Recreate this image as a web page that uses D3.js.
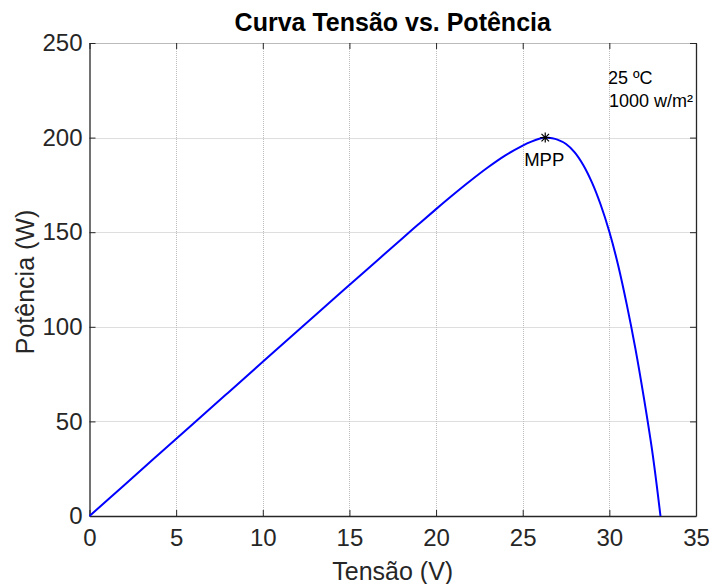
<!DOCTYPE html>
<html><head><meta charset="utf-8">
<script src="https://cdn.jsdelivr.net/npm/d3@7"></script>
<style>body{margin:0;background:#fff}svg{display:block;font-family:"Liberation Sans",Arial,sans-serif}</style>
</head><body>
<svg id="c" width="709" height="584"></svg>
<script>
const voltage = [0,2,4,6,8,10,12,14,16,18,19,20,21,22,23,24,25,25.5,26,26.3,26.7,27,27.5,28,28.5,29,29.5,30,30.5,31,31.5,32,32.5,32.95];
const power   = [0,16.3,32.6,48.9,65.2,81.5,97.8,114,130.2,146.3,154.3,162.2,169.9,177.3,184.3,190.6,195.8,197.9,199.5,200,199.6,198.9,196.6,192.2,185.4,176.2,164.5,150.2,132.8,112,88.6,62,32.6,0];
const xTicks = [0,5,10,15,20,25,30,35];
const yTicks = [0,50,100,150,200,250];
const mpp = {v: 26.3, p: 200};
const title = "Curva Tensão vs. Potência";
const xLabel = "Tensão (V)";
const yLabel = "Potência (W)";
const notes = ["25 ºC", "1000 w/m²"];

const svg = d3.select("#c");
const L = 89.5, R = 696, T = 43, B = 516;
const x = d3.scaleLinear().domain([0,35]).range([L,R]);
const y = d3.scaleLinear().domain([0,250]).range([B,T]);

// grid
const g = svg.append("g");
g.selectAll(".vx").data(xTicks.slice(1,-1)).enter().append("line")
  .attr("x1",d=>Math.round(x(d))+0.5).attr("x2",d=>Math.round(x(d))+0.5).attr("y1",T).attr("y2",B)
  .attr("stroke","#bdbdbd").attr("stroke-dasharray","1,1");
g.selectAll(".hy").data(yTicks.slice(1,-1)).enter().append("line")
  .attr("y1",d=>Math.round(y(d))+0.5).attr("y2",d=>Math.round(y(d))+0.5).attr("x1",L).attr("x2",R)
  .attr("stroke","#bdbdbd").attr("stroke-dasharray","1,1");
// top line
svg.append("line").attr("x1",L).attr("x2",R).attr("y1",T+0.5).attr("y2",T+0.5).attr("stroke","#777").attr("stroke-dasharray","1,1");

// axes with inward ticks
const xa = svg.append("g").attr("transform",`translate(0,${B})`)
  .call(d3.axisBottom(x).tickValues(xTicks).tickSizeInner(-6).tickSizeOuter(0).tickPadding(13).tickFormat(d3.format("d")));
const ya = svg.append("g").attr("transform",`translate(${L},0)`)
  .call(d3.axisLeft(y).tickValues(yTicks).tickSizeInner(-6).tickSizeOuter(0).tickPadding(7).tickFormat(d3.format("d")));
const ra = svg.append("g").attr("transform",`translate(${R},0)`)
  .call(d3.axisRight(y).tickValues(yTicks).tickSizeInner(-6).tickSizeOuter(0).tickFormat(""));
const ta = svg.append("g").attr("transform",`translate(0,${T})`)
  .call(d3.axisTop(x).tickValues(xTicks).tickSizeInner(-6).tickSizeOuter(0).tickFormat(""));
[xa,ya,ra].forEach(a=>{a.select(".domain").attr("stroke","#262626").attr("stroke-width",1.3);a.selectAll(".tick line").attr("stroke","#262626");});
ta.select(".domain").remove();
ta.selectAll(".tick line").attr("stroke","#262626");
[xa,ya].forEach(a=>a.selectAll(".tick text").attr("font-size",24).attr("fill","#262626").attr("font-family","'Liberation Sans',Arial,sans-serif"));

// curve
const pts = voltage.map((v,i)=>[v,power[i]]);
svg.append("path").datum(pts)
  .attr("d", d3.line().x(d=>x(d[0])).y(d=>y(d[1])).curve(d3.curveCatmullRom.alpha(0.5)))
  .attr("fill","none").attr("stroke","#0000ff").attr("stroke-width",2);

// MPP marker
const mx = x(mpp.v), my = y(mpp.p);
const s = 5;
svg.append("path")
  .attr("d",`M${mx-s},${my}H${mx+s}M${mx},${my-s}V${my+s}M${mx-s*0.75},${my-s*0.75}L${mx+s*0.75},${my+s*0.75}M${mx-s*0.75},${my+s*0.75}L${mx+s*0.75},${my-s*0.75}`)
  .attr("stroke","#000").attr("stroke-width",1.2);
svg.append("text").attr("x",mx-1).attr("y",my+28).attr("text-anchor","middle").attr("font-size",18.5).text("MPP");

// notes
svg.append("text").attr("x",608).attr("y",84).attr("font-size",18).text(notes[0]);
svg.append("text").attr("x",609).attr("y",107).attr("font-size",18).text(notes[1]);

// title & labels
svg.append("text").attr("x",(L+R)/2).attr("y",31).attr("text-anchor","middle").attr("font-size",25).attr("font-weight","bold").text(title);
svg.append("text").attr("x",(L+R)/2).attr("y",580).attr("text-anchor","middle").attr("font-size",25).attr("fill","#262626").text(xLabel);
svg.append("text").attr("transform",`translate(34,282) rotate(-90)`).attr("text-anchor","middle").attr("font-size",25).attr("fill","#262626").text(yLabel);
</script>
</body></html>
